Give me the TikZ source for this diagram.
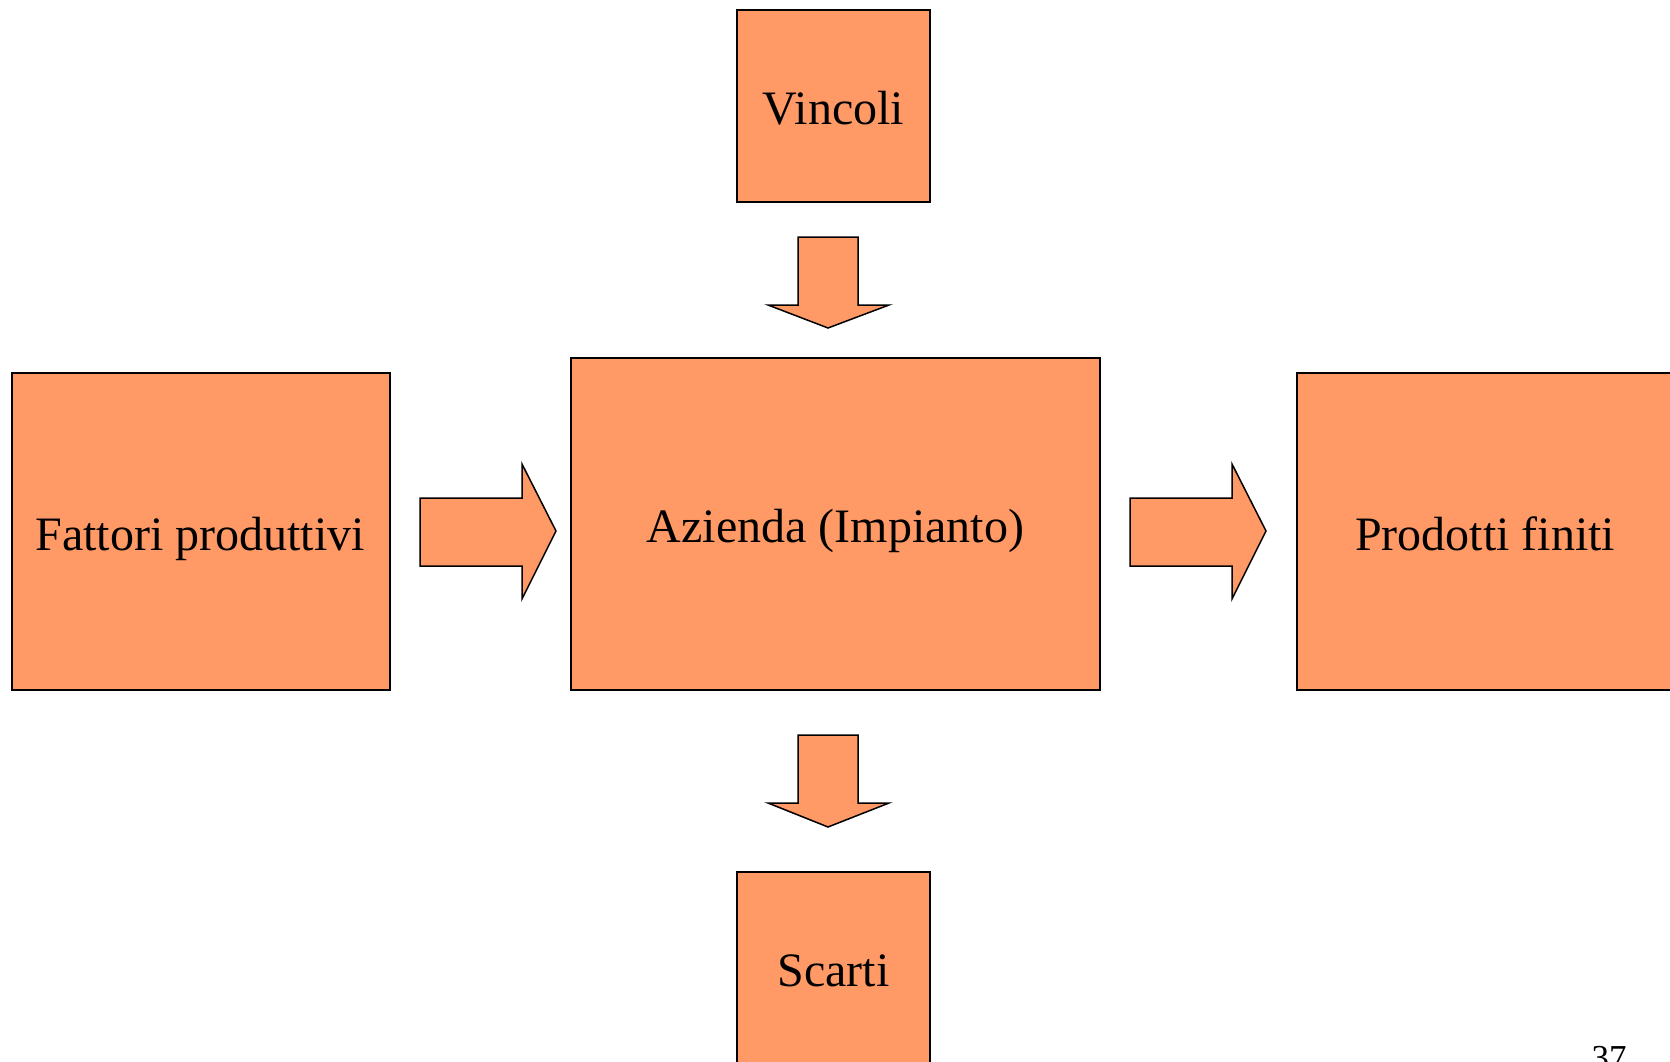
\documentclass[tikz,border=0pt]{standalone}
\usepackage{fontspec}
\setmainfont{Liberation Serif}
\definecolor{boxfill}{RGB}{255,153,102}
\begin{document}
\begin{tikzpicture}[x=1pt,y=-1pt,
  blk/.style={draw=black,fill=boxfill,line width=1.5pt,rectangle,inner sep=0pt,
    font=\fontsize{48}{56}\selectfont},
  barrow/.style={draw=black,fill=boxfill,line width=1.5pt,line join=miter}]
\useasboundingbox (0,0) rectangle (1670,1062);
\clip (0,0) rectangle (1670,1062);
\fill[white] (0,0) rectangle (1670,1062);
% boxes
\node[blk,minimum width=193pt,minimum height=192pt] (vincoli) at (833.5,106) {};
\node[font=\fontsize{48}{56}\selectfont] at (833.5,108) {Vincoli};
\node[blk,minimum width=529pt,minimum height=332pt] (azienda) at (835.5,524) {};
\node[font=\fontsize{48}{56}\selectfont] at (835.5,531) {Azienda (Impianto)};
\node[blk,minimum width=378pt,minimum height=317pt] (fattori) at (201,531.5) {};
\node[font=\fontsize{48}{56}\selectfont] at (200,539) {Fattori produttivi};
\node[blk,minimum width=380pt,minimum height=317pt] (prodotti) at (1487,531.5) {};
\node[font=\fontsize{48}{56}\selectfont] at (1485,534) {Prodotti finiti};
\node[blk,minimum width=193pt,minimum height=192pt] (scarti) at (833.5,968) {};
\node[font=\fontsize{48}{56}\selectfont] at (833.5,971) {Scarti};
% block arrows
\draw[barrow] (798,237) -- (858,237) -- (858,305) -- (889,305) -- (828,328) -- (768,305) -- (798,305) -- cycle;
\draw[barrow] (798,735) -- (858,735) -- (858,803) -- (889,803) -- (828,827) -- (768,803) -- (798,803) -- cycle;
\draw[barrow] (420,498) -- (522,498) -- (522,464) -- (556,531) -- (522,599) -- (522,566) -- (420,566) -- cycle;
\draw[barrow] (1130,498) -- (1232,498) -- (1232,464) -- (1266,531) -- (1232,599) -- (1232,566) -- (1130,566) -- cycle;
% page number
\node[font=\fontsize{35}{40}\selectfont,anchor=base] (pg) at (1609,1069) {37};
\end{tikzpicture}
\end{document}
